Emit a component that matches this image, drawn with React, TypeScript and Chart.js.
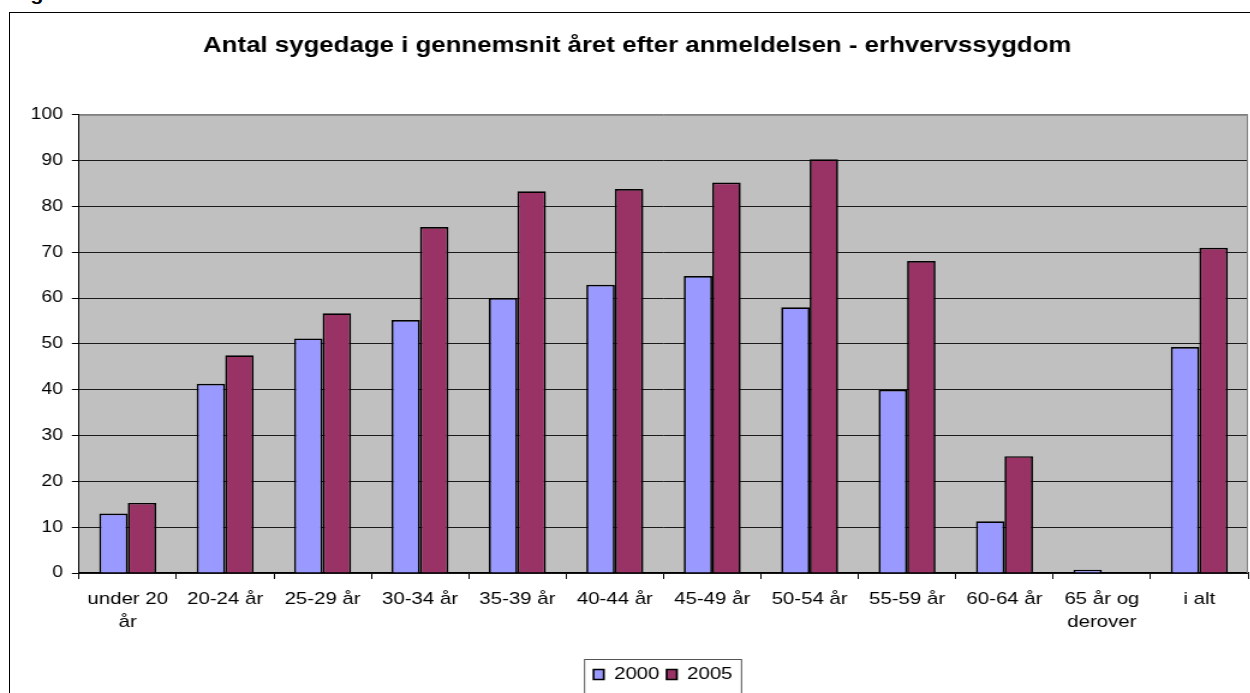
import React, { useEffect, useRef } from "react";
import { Chart, registerables } from "chart.js";

Chart.register(...registerables);

const categories: (string | string[])[] = [
  ["under 20", "år"],
  "20-24 år",
  "25-29 år",
  "30-34 år",
  "35-39 år",
  "40-44 år",
  "45-49 år",
  "50-54 år",
  "55-59 år",
  "60-64 år",
  ["65 år og", "derover"],
  "i alt",
];
const seriesLabels = ["2000", "2005"];
const values2000 = [13, 41.3, 51.2, 55.2, 60, 62.9, 64.8, 58, 40, 11.3, 0.7, 49.3];
const values2005 = [15.3, 47.5, 56.7, 75.5, 83.3, 83.8, 85.2, 90.3, 68.1, 25.5, 0, 71];
const yMin = 0;
const yMax = 100;
const yStep = 10;
const titleText = "Antal sygedage i gennemsnit året efter anmeldelsen - erhvervssygdom";

const SX = 1.2;
const W = 1250 / SX;
const H = 693;
const FONT = "'Liberation Sans', Arial, Helvetica, sans-serif";

const framePlugin = {
  id: "frame",
  afterLayout(chart: any) {
    const t = chart.titleBlock;
    if (t) {
      t.left += 11;
      t.right += 11;
    }
    const l = chart.legend;
    if (l) {
      l.left += 32.5;
      l.right += 32.5;
    }
  },
  beforeDraw(chart: any) {
    const { ctx, chartArea: a } = chart;
    ctx.save();
    ctx.fillStyle = "#c0c0c0";
    ctx.fillRect(a.left, a.top, a.right - a.left, a.bottom - a.top);
    ctx.restore();
  },
  afterDraw(chart: any) {
    const { ctx, chartArea: a } = chart;
    ctx.save();
    ctx.strokeStyle = "#808080";
    ctx.lineWidth = 1;
    ctx.beginPath();
    ctx.moveTo(a.left, a.top + 0.5);
    ctx.lineTo(a.right - 0.5, a.top + 0.5);
    ctx.lineTo(a.right - 0.5, a.bottom);
    ctx.stroke();
    const l = chart.legend;
    if (l && l.lineWidths) {
      const lw = l.lineWidths[0];
      const pad = l.options.labels.padding;
      const startX = (l.left + pad + l.right - lw) / 2;
      const x0 = startX - 7.5;
      const x1 = startX + lw - pad + 7.5;
      ctx.strokeStyle = "#555";
      ctx.strokeRect(x0, l.top - 0.5, x1 - x0, 100);
    }
    ctx.restore();
  },
};

export default function App() {
  const ref = useRef<HTMLCanvasElement | null>(null);

  useEffect(() => {
    if (!ref.current) return;
    const chart = new Chart(ref.current, {
      type: "bar",
      data: {
        labels: categories,
        datasets: [
          {
            label: seriesLabels[0],
            data: values2000,
            backgroundColor: "#9999ff",
            borderColor: "#000",
            borderWidth: 1.7,
            categoryPercentage: 0.585,
            barPercentage: 1,
          },
          {
            label: seriesLabels[1],
            data: values2005,
            backgroundColor: "#993366",
            borderColor: "#000",
            borderWidth: 1.7,
            categoryPercentage: 0.585,
            barPercentage: 1,
          },
        ],
      },
      options: {
        responsive: false,
        animation: false,
        devicePixelRatio: 1,
        layout: { padding: { left: 0, right: 2, top: 0, bottom: 0 } },
        plugins: {
          title: {
            display: true,
            text: titleText,
            color: "#000",
            font: { family: FONT, size: 21.5, weight: "bold", lineHeight: 1.2 },
            padding: { top: 33, bottom: 56 },
          },
          legend: {
            display: true,
            position: "bottom",
            labels: {
              color: "#000",
              font: { family: FONT, size: 17 },
              boxWidth: 8.5,
              boxHeight: 10,
              padding: 6,
            },
          },
          tooltip: { enabled: false },
        },
        scales: {
          x: {
            grid: {
              offset: true,
              drawOnChartArea: false,
              drawTicks: true,
              tickLength: 6,
              color: "#000",
            },
            border: { display: true, color: "#000", width: 1.2 },
            ticks: {
              color: "#000",
              font: { family: FONT, size: 17, lineHeight: 1.35 },
              padding: 9,
              maxRotation: 0,
              autoSkip: false,
            },
            afterFit: (s: any) => {
              s.height = 87;
            },
          },
          y: {
            min: yMin,
            max: yMax,
            ticks: {
              stepSize: yStep,
              color: "#000",
              font: { family: FONT, size: 16 },
              padding: 7.5,
            },
            grid: {
              color: (c: any) => (c.tick && c.tick.value === yMax ? "#808080" : "#1a1a1a"),
              tickColor: "#000",
              tickLength: 6,
              lineWidth: 1,
            },
            border: { display: true, color: "#000", width: 1 },
            afterFit: (s: any) => {
              s.width = 65.8;
            },
          },
        },
      },
      plugins: [framePlugin],
    });
    return () => chart.destroy();
  }, []);

  return (
    <div
      style={{
        position: "absolute",
        left: 0,
        top: 0,
        width: 1250,
        height: 693,
        overflow: "hidden",
        background: "#fff",
      }}
    >
      <div
        style={{
          position: "absolute",
          left: 11,
          top: -15.5,
          fontFamily: FONT,
          fontWeight: "bold",
          fontSize: 18,
          lineHeight: "18px",
          transform: `scaleX(${SX})`,
          transformOrigin: "0 0",
          whiteSpace: "nowrap",
        }}
      >
        Figur
      </div>
      <div
        style={{
          position: "absolute",
          left: 9,
          top: 12,
          width: 1300,
          height: 720,
          border: "1px solid #000",
          boxSizing: "border-box",
        }}
      />
      <canvas
        ref={ref}
        width={W}
        height={H}
        style={{
          position: "absolute",
          left: 0,
          top: 0,
          width: W + "px",
          height: H + "px",
          transform: `scaleX(${SX})`,
          transformOrigin: "0 0",
        }}
      />
    </div>
  );
}
